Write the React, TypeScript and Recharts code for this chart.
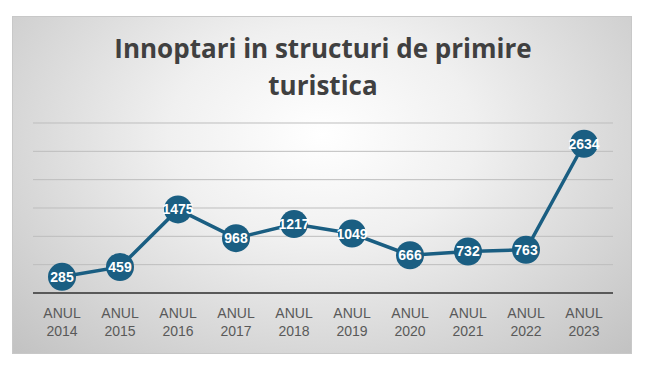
import { LineChart, Line, XAxis, YAxis, CartesianGrid, LabelList } from 'recharts';

const years = ['2014', '2015', '2016', '2017', '2018', '2019', '2020', '2021', '2022', '2023'];
const arrivals = [285, 459, 1475, 968, 1217, 1049, 666, 732, 763, 2634];
const yTicks = [0, 500, 1000, 1500, 2000, 2500, 3000];

const data = years.map((y, i) => ({ year: y, value: arrivals[i] }));

const LINE_COLOR = '#1a5e82';

const YearTick = (props: any) => {
  const { x, y, payload } = props;
  return (
    <g transform={`translate(${x},${y})`}>
      <text textAnchor="middle" fill="#595959" fontSize={14} fontFamily="Liberation Sans, Arial, sans-serif">
        <tspan x={0} dy={17}>ANUL</tspan>
        <tspan x={0} dy={18}>{payload.value}</tspan>
      </text>
    </g>
  );
};

const BigDot = (props: any) => {
  const { cx, cy } = props;
  if (cx == null || cy == null) return null;
  return <circle cx={cx} cy={cy} r={14} fill={LINE_COLOR} />;
};

export default function App() {
  return (
    <div style={{ position: 'absolute', left: 0, top: 0, width: 650, height: 367, background: '#fff' }}>
      <div
        style={{
          position: 'absolute',
          left: 12,
          top: 16,
          width: 620,
          height: 338,
          boxSizing: 'border-box',
          border: '1px solid #c8c8c8',
          background: 'radial-gradient(ellipse at 50% 35%, #ffffff 0%, #f0f0f0 35%, #c2c2c2 100%)',
        }}
      >
        <div
          style={{
            position: 'absolute',
            left: 0,
            top: 13,
            width: 620,
            textAlign: 'center',
            fontFamily: 'Open Sans, sans-serif',
            fontWeight: 700,
            fontSize: 26,
            lineHeight: '37px',
            color: '#404040',
          }}
        >
          Innoptari in structuri de primire
          <br />
          turistica
        </div>
        <div style={{ position: 'absolute', left: -1, top: -1 }}>
          <LineChart width={620} height={338} data={data} margin={{ top: 107, right: 19, bottom: 0, left: 21 }}>
            <CartesianGrid horizontal vertical={false} stroke="#bdbdbd" strokeWidth={1} />
            <XAxis
              dataKey="year"
              axisLine={{ stroke: '#595959', strokeWidth: 2 }}
              tickLine={false}
              tick={<YearTick />}
              height={61}
              interval={0}
              padding={{ left: 29, right: 29 }}
            />
            <YAxis hide domain={[0, 3000]} ticks={yTicks} width={0} />
            <Line
              type="linear"
              dataKey="value"
              stroke={LINE_COLOR}
              strokeWidth={3.5}
              dot={<BigDot />}
              activeDot={false}
              isAnimationActive={false}
            >
              <LabelList
                dataKey="value"
                position="center"
                fill="#ffffff"
                fontSize={14}
                fontWeight={700}
                fontFamily="Liberation Sans, Arial, sans-serif"
              />
            </Line>
          </LineChart>
        </div>
      </div>
    </div>
  );
}
